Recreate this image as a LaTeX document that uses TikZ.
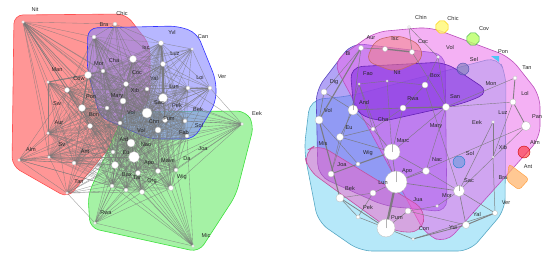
\documentclass[tikz,border=0pt]{standalone}
\usepackage{fontspec}
\newfontfamily\lb{Liberation Sans}
\usetikzlibrary{shapes.geometric}
\definecolor{hred}{RGB}{255,150,150}
\definecolor{hredd}{RGB}{255,80,80}
\definecolor{hblue}{RGB}{135,135,255}
\definecolor{hblued}{RGB}{50,50,255}
\definecolor{hgreen}{RGB}{150,240,150}
\definecolor{hgreend}{RGB}{60,225,60}
\definecolor{rcyan}{RGB}{110,210,245}
\definecolor{rblue}{RGB}{115,90,240}
\definecolor{rmag}{RGB}{235,100,235}
\definecolor{rviol}{RGB}{125,40,225}
\definecolor{rpink}{RGB}{245,100,200}
\definecolor{rsal}{RGB}{245,130,130}
\definecolor{edg}{RGB}{120,120,120}
\tikzset{
  nd/.style={circle,fill=white,draw=gray!55,line width=.3pt,inner sep=0pt},
  lbl/.style={font=\lb\fontsize{5.6}{6}\selectfont,text=black!85,inner sep=0pt},
  coreedge/.style={draw=edg,line width=.35pt,draw opacity=.5},
  hubedge/.style={draw=edg,line width=.35pt,draw opacity=.75},
  redge/.style={draw=edg,line width=.5pt,draw opacity=.9},
  hull/.style={rounded corners=9pt,line width=.6pt},
  blob/.style={rounded corners=12pt,line width=.6pt,fill opacity=.5}
}
\begin{document}
\begin{tikzpicture}[x=1pt,y=-1pt]
\useasboundingbox[fill=white] (0,0) rectangle (550,257);
% ---------- left panel hulls ----------
\draw[hull,fill=hred,draw=hredd] (14,15) -- (126,14) -- (150,45) -- (150,98) -- (68,198) -- (12,166) -- cycle;
\draw[hull,fill=hgreen,draw=hgreend,fill opacity=.85] (125,112) -- (246,111) -- (254,125) -- (236,195) -- (199,252) -- (90,228) -- (88,195) -- cycle;
\draw[hull,fill=hblue,draw=hblued,fill opacity=.6] (88,28) -- (178,26) -- (197,33) -- (216,80) -- (216,102) -- (194,139) -- (150,139) -- (100,117) -- (87,68) -- cycle;
% ---------- left panel nodes ----------
\foreach \n/\x/\y/\s in {c1/103/71/4,c2/133/59/7,c3/88/75/7,c4/67/90/5,c5/126/84/5,c6/147/89/4,c7/123/101/6,c8/82/108/7,c9/107/108/4,c10/147/113/10,c11/120/123/4,c12/165/120/5,c13/158/130/6,c14/90/126/5,c15/131/143/8,c16/113/152/4,c17/134/157/11,c18/115/165/7,c19/138/173/5,c20/158/171/5,c21/112/186/4,c22/126/190/4,c23/142/192/5,c24/171/188/5,c25/176/170/4,c26/163/98/9,c27/161/43/5,c28/163/64/5,c29/188/88/4,c30/185/121/4,c31/187/136/4,c32/74/163/4,c33/49/157/3,c34/48/133/3,c35/94/37/4,hNit/23/22/3,hBra/115/24/4,hMan/48/82/3,hAlm/19/160/3,hTan/67/193/3,hRwa/95/223/3,hMic/193/246/3,hEek/242/124/3,hVer/210/88/4,hCan/192/49/3}
  \coordinate (\n) at (\x,\y);
% core edges
\foreach \i in {1,...,35}{\foreach \j in {1,...,35}{\ifnum\i<\j \draw[coreedge] (c\i) -- (c\j);\fi}}
% hub edges
\foreach \t in {c1,c3,c4,c5,c7,c8,c9,c11,c14,c16,c18,c21,c32,c33,c34,c35,hBra,hMan,c2,c10,c15,c17} \draw[hubedge] (hNit) -- (\t);
\foreach \t in {c1,c2,c3,c5,c7,c27,c28,c35,c8,c10} \draw[hubedge] (hBra) -- (\t);
\foreach \t in {c3,c4,c8,c14,c1,c7,c9,c11,c15,c16,c17,c18,c32,c33,c34,c10,c21,hTan} \draw[hubedge] (hMan) -- (\t);
\foreach \t in {c32,c33,c34,c14,c16,c17,c18,c21,c22,c4,c8,c15,hTan,c11} \draw[hubedge] (hAlm) -- (\t);
\foreach \t in {c32,c33,c16,c17,c18,c19,c21,c22,c23,c15,c14,hRwa,c11,c9} \draw[hubedge] (hTan) -- (\t);
\foreach \t in {c18,c19,c21,c22,c23,c24,c20,c17,c15,hMic,c16} \draw[hubedge] (hRwa) -- (\t);
\foreach \t in {c19,c20,c21,c22,c23,c24,c25,c17,c18,c13,c15,c31,c16} \draw[hubedge] (hMic) -- (\t);
\foreach \t in {c10,c12,c13,c20,c24,c25,c26,c29,c30,c31,c17,c15,c19,c23,c6,c7,hVer} \draw[hubedge] (hEek) -- (\t);
\foreach \t in {c2,c5,c6,c10,c12,c13,c26,c27,c28,c29,c30,c31,c7,c11,c15} \draw[hubedge] (hVer) -- (\t);
\foreach \t in {c27,c28,c26,c29,c2,c5,c6,c10,c12,c7,c1,hVer} \draw[hubedge] (hCan) -- (\t);
% thick edges
\foreach \a/\b/\w in {c27/c28/2,c28/c26/1.6,c3/c8/1,c17/c15/1.2,c10/c13/1,c26/c12/1,c8/c14/.8,c18/c21/.8,c19/c23/.8,c2/c5/.8,hMan/c3/.8,c10/c26/.9,c17/c19/.8,c7/c10/.8,c15/c18/.8,c1/c3/.8}
  \draw[draw=edg,line width=\w pt,draw opacity=.8] (\a) -- (\b);
% node circles
\foreach \n/\x/\y/\s in {c1/103/71/4,c2/133/59/7,c3/88/75/7,c4/67/90/5,c5/126/84/5,c6/147/89/4,c7/123/101/6,c8/82/108/7,c9/107/108/4,c10/147/113/10,c11/120/123/4,c12/165/120/5,c13/158/130/6,c14/90/126/5,c15/131/143/8,c16/113/152/4,c17/134/157/11,c18/115/165/7,c19/138/173/5,c20/158/171/5,c21/112/186/4,c22/126/190/4,c23/142/192/5,c24/171/188/5,c25/176/170/4,c26/163/98/9,c27/161/43/5,c28/163/64/5,c29/188/88/4,c30/185/121/4,c31/187/136/4,c32/74/163/4,c33/49/157/3,c34/48/133/3,c35/94/37/4,hNit/23/22/3,hBra/115/24/4,hMan/48/82/3,hAlm/19/160/3,hTan/67/193/3,hRwa/95/223/3,hMic/193/246/3,hEek/242/124/3,hVer/210/88/4,hCan/192/49/3}
  \node[nd,minimum size=\s pt] (n\n) at (\n) {};
% left labels
\foreach \n/\x/\y/\t in {a1/35/9/Nit,a2/122/13/Chic,a3/104/25/Bra,a4/57/70/Man,a5/79/79/Cow,a6/99/64/Mor,a7/114/60/Cha,a8/137/73/Coc,a9/146/48/Isc,a10/172/32/Yvl,a11/203/37/Can,a12/175/54/Luz,a13/154/78/Yal,a14/200/77/Loi,a15/222/77/Ver,a16/174/87/Lun,a17/135/90/Xib,a18/91/97/Pon,a19/117/96/Mary,a20/57/104/Sw,a21/159/103/Sac,a22/177/105/Pek,a23/198/109/Bek,a24/257/113/Eek,a25/131/112/Vol,a26/94/115/Bon,a27/154/121/Chn,a28/169/119/Fum,a29/199/125/Sol,a30/141/130/Vol,a31/59/123/Aur,a32/184/132/Fab,a33/124/139/Ard,a34/146/145/Nao,a35/203/149/Joa,a36/31/149/Alm,a37/62/145/Sv,a38/85/152/Ant,a39/126/153/Eu,a40/149/163/Apo,a41/168/161/Mave,a42/187/159/Da,a43/127/175/Bax,a44/137/178/Tar,a45/152/181/Org,a46/182/177/Wig,a47/79/182/Tan,a48/106/213/Rwa,a49/206/235/Mic}
  \node[lbl] (\n) at (\x,\y) {\t};
% ---------- right panel blobs ----------
\draw[blob,fill=rcyan,draw=rcyan!80!black] (310,100) -- (350,96) -- (498,57) -- (506,75) -- (505,210) -- (470,251) -- (360,251) -- (318,222) -- (304,150) -- cycle;
\draw[blob,fill=rblue,draw=rblue!80!black,fill opacity=.55] (316,90) -- (352,43) -- (445,54) -- (447,212) -- (385,206) -- (318,176) -- cycle;
\draw[blob,fill=rmag,draw=rmag!80!black] (333,62) -- (375,32) -- (430,27) -- (510,57) -- (540,95) -- (540,138) -- (446,243) -- (426,235) -- cycle;
\draw[blob,fill=rviol,draw=rviol!80!black,fill opacity=.55] (350,67) -- (445,62) -- (490,92) -- (465,103) -- (380,122) -- (354,112) -- cycle;
\draw[blob,fill=rsal,draw=rsal!80!black,rounded corners=8pt] (366,61) -- (375,40) -- (398,35) -- (420,44) -- (423,60) -- (395,72) -- cycle;
\draw[blob,fill=rpink,draw=rpink!80!black] (304,152) -- (318,144) -- (426,210) -- (421,233) -- (392,231) -- (308,170) -- cycle;
\node[regular polygon,regular polygon sides=8,minimum size=13pt,fill=yellow!55,draw=yellow!70!orange,line width=.5pt,fill opacity=.8] (bChic) at (442,27) {};
\node[regular polygon,regular polygon sides=8,minimum size=13pt,fill=green!45!yellow!60,draw=green!60!black!70,line width=.5pt,fill opacity=.8] (bCov) at (473,39) {};
\node[circle,minimum size=12pt,fill=blue!30!gray!80,draw=blue!40!gray,fill opacity=.6] (bSel) at (463,69) {};
\node[circle,minimum size=12pt,fill=cyan!60!blue!70,draw=cyan!60!blue,fill opacity=.5] (bSol) at (459,162) {};
\node[circle,minimum size=12pt,fill=red!75!pink,draw=red!80!black,fill opacity=.6] (bAlm) at (524,152) {};
\draw[fill=orange!60,draw=orange!80,fill opacity=.7,rounded corners=3pt] (509,164) -- (529,179) -- (519,190) -- (507,181) -- cycle;
\fill[cyan!70] (491,56) -- (499,56) -- (499,62) -- cycle;
% ---------- right panel nodes (coords) ----------
\foreach \n/\x/\y/\s in {rAur/361/48/5,rIsc/385/49/5,rCoc/412/52/5,rChin/409/27/3,rFao/359/84/2.5,rNit/387/81/2.5,rBox/425/85/6,rDig/324/92/6,rVol/353/110/10,rRwa/403/108/6,rSan/446/107/7,rCha/373/129/4,rEu/340/137/7,rMis/319/120/8,rMarc/392/152/16,rJoa/358/164/4,rJtwo/331/174/6,rNac/426/171/7,rLun/396/182/22,rBek/340/198/8,rBtwo/373/193/6,rPek/358/217/4,rJua/408/211/6,rPum/386/228/18,rCon/413/239/3,rMtwo/437/206/3,rMor/459/191/11,rYal/495/213/5,rYui/466/225/7,rXib/493/157/2.5,rPan/526/126/9,rPtwo/493/122/3,rLol/513/102/6,rTan/515/78/4,rVtwo/438/57/3}
  \coordinate (\n) at (\x,\y);
\foreach \a/\b/\w in {rAur/rIsc/.5,rIsc/rCoc/1.3,rCoc/rChin/.5,rChin/rVtwo/.4,rAur/rMis/1.1,rAur/rVol/.5,rDig/rMis/.6,rMis/rBek/1.1,rBek/rPum/.8,rLun/rPum/2.2,rJtwo/rJoa/.9,rJoa/rMarc/1.1,rMarc/rLun/.6,rLun/rNac/.6,rLun/rMor/.6,rMor/rYui/.6,rYui/rYal/1,rYui/rCon/.8,rCon/rPum/.6,rPum/rJua/.5,rLun/rBtwo/.5,rBtwo/rPek/.5,rPek/rBek/.5,rRwa/rSan/1.3,rVol/rRwa/.6,rBox/rRwa/.5,rBox/rNit/.4,rNit/rFao/.4,rFao/rJtwo/.4,rTan/rLol/.9,rLol/rPan/.8,rPtwo/rXib/.5,rXib/rYal/.5,rMor/rPtwo/.5,rEu/rCha/.5,rCha/rMarc/.5,rEu/rMarc/.5,rCha/rRwa/.4,rVol/rEu/.6,rMarc/rNac/.5,rNac/rSan/.4,rMor/rMtwo/.4,rMtwo/rJua/.4,rSan/rMarc/.4,rVtwo/rSan/.4,rVtwo/rBox/.4,rTan/rSan/.4,rPan/rMor/.4,rPan/rLun/.4,rDig/rAur/.4,rFao/rLun/.4,rNit/rMarc/.4,rBox/rMor/.4,rSan/rLol/.4,rCoc/rSan/.4,rDig/rVol/.5,rJtwo/rEu/.4,rJua/rYui/.4,rPek/rPum/.5,rMis/rJoa/.4,rVol/rCha/.4,rXib/rLol/.4,rMor/rYal/.5,rBtwo/rBek/.4,rNac/rMor/.4,rCon/rYal/.5,rFao/rCha/.4,rRwa/rMarc/.4}
  \draw[redge,line width=\w pt] (\a) -- (\b);
\foreach \n/\x/\y/\s in {rAur/361/48/5,rIsc/385/49/5,rCoc/412/52/5,rChin/409/27/3,rFao/359/84/2.5,rNit/387/81/2.5,rBox/425/85/6,rDig/324/92/6,rVol/353/110/10,rRwa/403/108/6,rSan/446/107/7,rCha/373/129/4,rEu/340/137/7,rMis/319/120/8,rMarc/392/152/16,rJoa/358/164/4,rJtwo/331/174/6,rNac/426/171/7,rLun/396/182/22,rBek/340/198/8,rBtwo/373/193/6,rPek/358/217/4,rJua/408/211/6,rPum/386/228/18,rCon/413/239/3,rMtwo/437/206/3,rMor/459/191/11,rYal/495/213/5,rYui/466/225/7,rXib/493/157/2.5,rPan/526/126/9,rPtwo/493/122/3,rLol/513/102/6,rTan/515/78/4,rVtwo/438/57/3}
  \node[nd,minimum size=\s pt] (n\n) at (\n) {};
\foreach \n in {rMarc,rLun,rPum,rVol,rMor}
  \draw[draw=gray!60,line width=.4pt] (n\n.center) -- (n\n.north);
% right labels
\foreach \n/\x/\y/\t in {b1/421/17/Chin,b2/453/18/Chic,b3/484/29/Cov,b4/371/38/Aur,b5/395/39/Isc,b6/423/42/Coc,b7/450/47/Vol,b8/503/52/Pon,b9/348/53/Bi,b10/474/59/Sel,b11/527/68/Tan,b12/368/74/Fao,b13/397/72/Nit,b14/435/76/Box,b15/334/82/Dig,b16/491/84/Mon,b17/525/93/Lol,b18/455/97/San,b19/413/99/Rwa,b20/364/102/And,b21/328/110/Vol,b22/503/113/Luz,b23/537/117/Pan,b24/383/119/Cha,b25/477/122/Eek,b26/436/126/Mary,b27/349/128/Eu,b28/403/141/Marc,b29/535/142/Alm,b30/323/143/Mis,b31/503/147/Xib,b32/470/153/Sol,b33/368/153/Wig,b34/437/160/Nac,b35/342/165/Joa,b36/528/167/Ant,b37/407/171/Apo,b38/503/178/Bra,b39/469/181/Sac,b40/383/183/Lun,b41/350/188/Bek,b42/447/196/Mor,b43/418/200/Jua,b44/506/203/Ver,b45/368/207/Pek,b46/477/214/Yal,b47/397/218/Pum,b48/453/227/Yui,b49/424/229/Con}
  \node[lbl] (\n) at (\x,\y) {\t};
\end{tikzpicture}
\end{document}
